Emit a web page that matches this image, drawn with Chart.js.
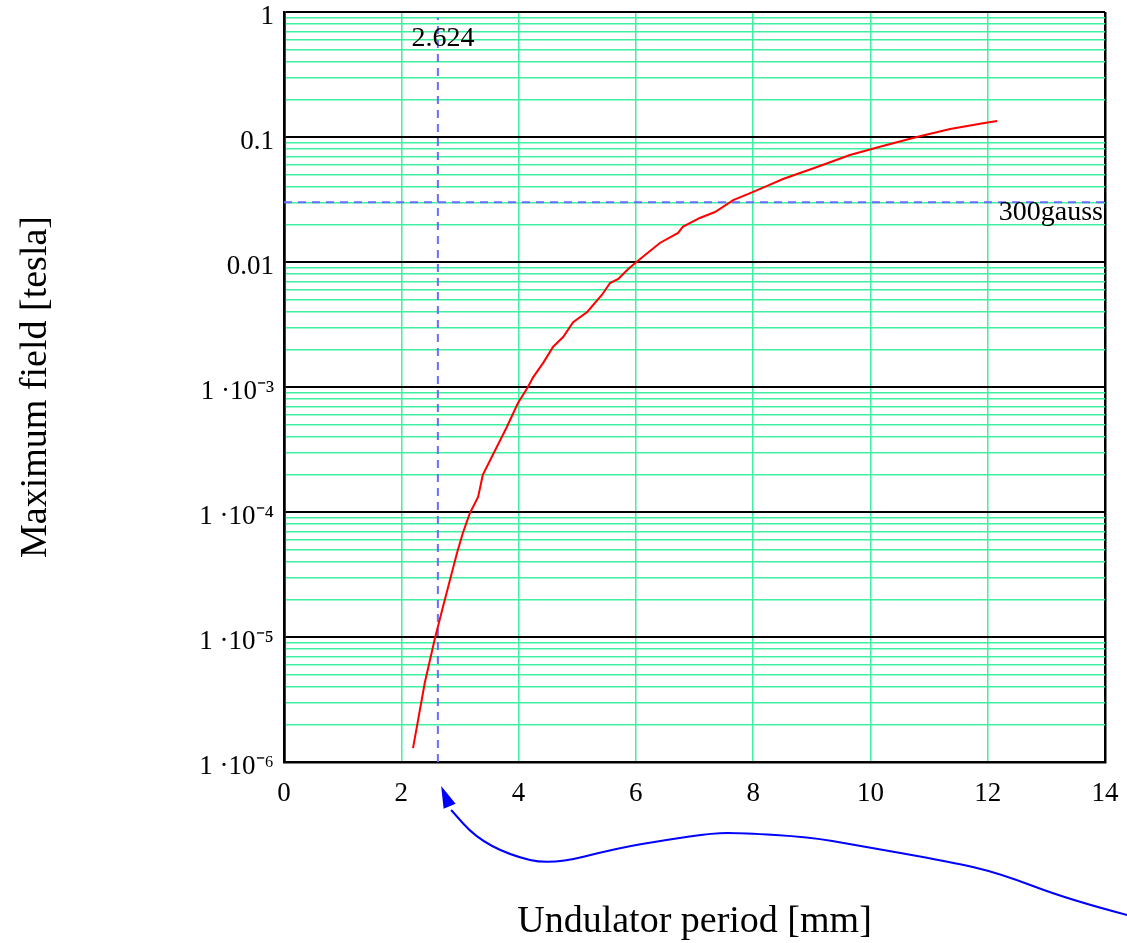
<!DOCTYPE html>
<html>
<head>
<meta charset="utf-8">
<title>Maximum field vs undulator period</title>
<script src="https://cdn.jsdelivr.net/npm/chart.js@4.4.1/dist/chart.umd.min.js"></script>
<style>
  html, body { margin: 0; padding: 0; background: #fff; }
  #wrap { width: 1127px; height: 943px; }
</style>
</head>
<body>
<div id="wrap"><canvas id="fieldChart"></canvas></div>
<script>
// undulator period [mm] and maximum field [tesla]
const periodMm = [2.20, 2.40, 2.575, 2.71, 2.83, 2.95, 3.05, 3.17, 3.31, 3.39, 3.56, 3.80, 3.99, 4.16,
                  4.25, 4.42, 4.59, 4.76, 4.93, 5.17, 5.42, 5.56, 5.70, 5.87, 5.99, 6.12, 6.41, 6.72, 6.80,
                  7.09, 7.35, 7.66, 7.95, 8.24, 8.51, 9.09, 9.65, 10.21, 10.79, 11.36, 11.92, 12.16]
const fieldTesla = [1.29e-6, 4.28e-6, 9.8e-6, 1.74e-5, 2.86e-5, 4.70e-5, 6.79e-5, 9.8e-5, 1.32e-4, 1.98e-4, 2.86e-4, 4.79e-4, 7.45e-4, 1.0e-3,
                    1.2e-3, 1.56e-3, 2.1e-3, 2.51e-3, 3.3e-3, 3.98e-3, 5.45e-3, 6.79e-3, 7.31e-3, 8.8e-3, 9.8e-3, 0.011, 0.0142, 0.0171, 0.0191,
                    0.0225, 0.0251, 0.0313, 0.0356, 0.0406, 0.0461, 0.0575, 0.0718, 0.0847, 0.100, 0.116, 0.129, 0.134]

// markers
const markPeriod = 2.624
const markField = 0.03   // 300 gauss

const xTicks = [0, 2, 4, 6, 8, 10, 12, 14]
const decades = [1e-6, 1e-5, 1e-4, 1e-3, 0.01, 0.1, 1]
const decadeLabels = ['1 ·10⁻⁶', '1 ·10⁻⁵', '1 ·10⁻⁴', '1 ·10⁻³', '0.01', '0.1', '1']

// blue arrow under the axis: [period, px below the axis]
const arrowPath = [[14.38, 153], [13.40, 138], [12.19, 111], [11.37, 100], [9.75, 83], [8.95, 75], [7.81, 71], [7.32, 71],
                   [6.51, 78], [5.70, 86], [4.55, 103], [3.84, 93], [3.26, 75], [2.85, 48]]
const arrowTip = [2.68, 24]

const yTickValues = []
decades.forEach(d => {
    if (d < 1) {
        for (let k = 1; k < 10; k++) yTickValues.push(+(d * k).toPrecision(3))
    } else yTickValues.push(d)
})

const isDecade = v => Math.abs(Math.log10(v) - Math.round(Math.log10(v))) < 1e-6
const GREEN = '#3ff0a0'
const SERIF = "'Liberation Serif', 'Times New Roman', serif"

const annotate = {
    id: 'annotate',
    afterDraw(chart) {
        const c = chart.ctx
        const xs = chart.scales.x, ys = chart.scales.y
        const area = chart.chartArea
        c.save()
        c.fillStyle = '#000'
        c.font = '28px ' + SERIF
        c.textAlign = 'center'
        c.textBaseline = 'alphabetic'
        c.fillText(markPeriod.toString(), xs.getPixelForValue(markPeriod) + 5, area.top + 34)
        c.textAlign = 'right'
        c.fillText('300gauss', area.right - 2, ys.getPixelForValue(markField) + 18)

        // curved arrow
        const pts = arrowPath.map(p => [xs.getPixelForValue(p[0]), area.bottom + p[1]])
        c.strokeStyle = '#0000ff'
        c.fillStyle = '#0000ff'
        c.lineWidth = 2
        c.beginPath()
        c.moveTo(pts[0][0], pts[0][1])
        for (let i = 1; i < pts.length - 1; i++) {
            const mx = (pts[i][0] + pts[i + 1][0]) / 2, my = (pts[i][1] + pts[i + 1][1]) / 2
            c.quadraticCurveTo(pts[i][0], pts[i][1], mx, my)
        }
        const last = pts[pts.length - 1]
        c.lineTo(last[0], last[1])
        c.stroke()
        const tx = xs.getPixelForValue(arrowTip[0]), ty = area.bottom + arrowTip[1]
        let dx = tx - last[0], dy = ty - last[1]
        const len = Math.hypot(dx, dy)
        dx /= len; dy /= len
        const bx = tx - dx * 22, by = ty - dy * 22
        c.beginPath()
        c.moveTo(tx, ty)
        c.lineTo(bx - dy * 6.5, by + dx * 6.5)
        c.lineTo(bx + dy * 6.5, by - dx * 6.5)
        c.closePath()
        c.fill()
        c.restore()
    }
}

const ctx = document.getElementById('fieldChart')
const myChart = new Chart(ctx, {
    type: 'scatter',
    data: {
        datasets: [{
            label: 'Maximum field',
            data: periodMm.map((p, i) => ({ x: p, y: fieldTesla[i] })),
            showLine: true,
            borderColor: '#ff0000',
            borderWidth: 2,
            pointRadius: 0,
            tension: 0
        }, {
            label: 'period marker',
            data: [{ x: markPeriod, y: 1e-6 }, { x: markPeriod, y: 0.9 }],
            showLine: true,
            borderColor: '#6b6bff',
            borderWidth: 2,
            borderDash: [8, 6],
            pointRadius: 0
        }, {
            label: '300 gauss',
            data: [{ x: 0, y: markField }, { x: 14, y: markField }],
            showLine: true,
            borderColor: '#6b6bff',
            borderWidth: 2,
            borderDash: [8, 6],
            pointRadius: 0
        }]
    },
    options: {
        responsive: true,
        maintainAspectRatio: false,
        animation: false,
        layout: { padding: { left: 0, right: 22, top: 12, bottom: 0 } },
        plugins: { legend: { display: false }, tooltip: { enabled: false } },
        scales: {
            x: {
                type: 'linear',
                min: 0,
                max: 14,
                afterBuildTicks: scale => { scale.ticks = xTicks.map(v => ({ value: v })) },
                afterFit: scale => {
                    scale.height = 181
                    scale.paddingLeft = 0
                    scale.paddingRight = 0
                },
                ticks: { font: { family: SERIF, size: 27 }, color: '#000', padding: 16 },
                grid: {
                    drawTicks: false,
                    color: c => (c.tick && (c.tick.value === 0 || c.tick.value === 14)) ? '#000' : GREEN,
                    lineWidth: c => (c.tick && (c.tick.value === 0 || c.tick.value === 14)) ? 2.5 : 1.5
                },
                border: { color: '#000', width: 2.5 },
                title: {
                    display: true,
                    text: 'Undulator period [mm]',
                    color: '#000',
                    font: { family: SERIF, size: 38, lineHeight: 1 },
                    padding: { top: 0, bottom: 2 }
                }
            },
            y: {
                type: 'logarithmic',
                min: 1e-6,
                max: 1,
                afterBuildTicks: scale => { scale.ticks = yTickValues.map(v => ({ value: v })) },
                afterFit: scale => {
                    scale.width = 284
                    scale.paddingTop = 0
                    scale.paddingBottom = 0
                },
                ticks: {
                    autoSkip: false,
                    font: { family: SERIF, size: 27 },
                    color: '#000',
                    padding: 10,
                    labelOffset: 5,
                    callback: v => {
                        const i = decades.findIndex(d => Math.abs(d - v) / d < 1e-6)
                        return i >= 0 ? decadeLabels[i] : ''
                    }
                },
                grid: {
                    drawTicks: false,
                    color: c => (c.tick && isDecade(c.tick.value)) ? '#000' : GREEN,
                    lineWidth: c => (c.tick && isDecade(c.tick.value)) ? 2 : 1.5
                },
                border: { color: '#000', width: 2.5 },
                title: {
                    display: true,
                    text: 'Maximum field [tesla]',
                    color: '#000',
                    font: { family: SERIF, size: 38 },
                    padding: { top: 13, bottom: 0 }
                }
            }
        }
    },
    plugins: [annotate]
})
</script>
</body>
</html>
